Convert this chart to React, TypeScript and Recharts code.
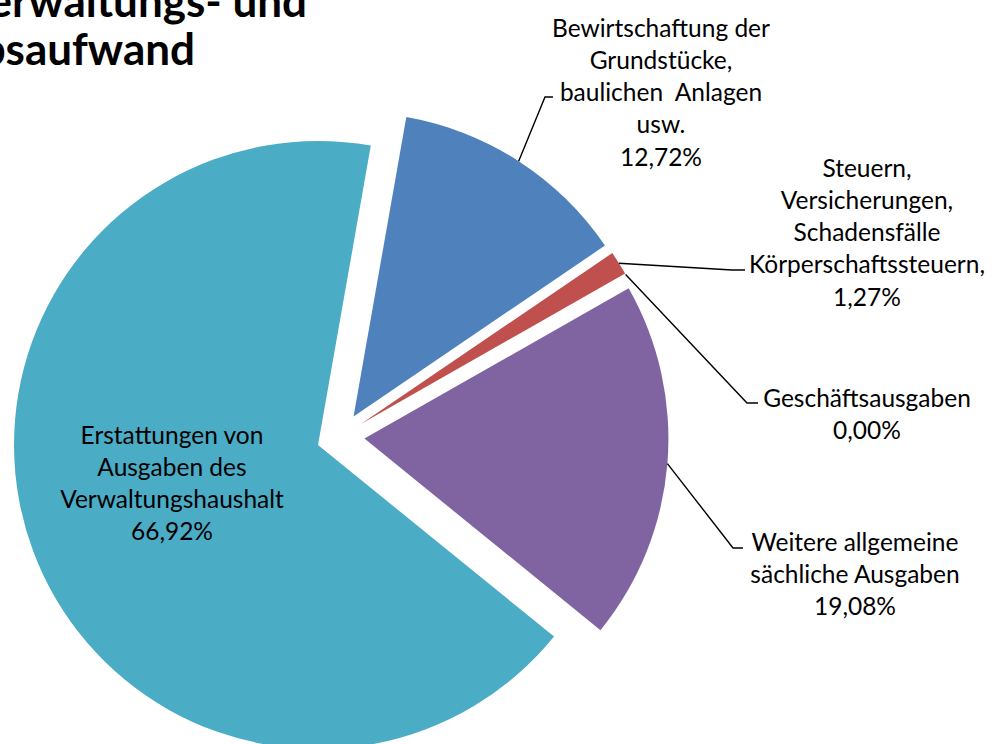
import React from 'react';
import { PieChart, Pie, Cell } from 'recharts';

// ---- data ----
const categories = [
  'Bewirtschaftung der Grundstücke, baulichen Anlagen usw.',
  'Steuern, Versicherungen, Schadensfälle Körperschaftssteuern',
  'Geschäftsausgaben',
  'Weitere allgemeine sächliche Ausgaben',
  'Erstattungen von Ausgaben des Verwaltungshaushalt',
];
const values = [12.72, 1.27, 0.0, 19.08, 66.92];
const labelLines: string[][] = [
  ['Bewirtschaftung der', 'Grundstücke,', 'baulichen  Anlagen', 'usw.'],
  ['Steuern,', 'Versicherungen,', 'Schadensfälle', 'Körperschaftssteuern,'],
  ['Geschäftsausgaben'],
  ['Weitere allgemeine', 'sächliche Ausgaben'],
  ['Erstattungen von', 'Ausgaben des', 'Verwaltungshaushalt'],
];
const titleLines = ['Verwaltungs- und', 'Betriebsaufwand'];

// ---- styles / layout ----
const colors = ['#4F81BD', '#C0504D', '#9BBB59', '#8064A2', '#4BACC6'];
const W = 999;
const H = 744;
const CENTER = { x: 340.5, y: 436.6 };
const EXPLODE = 24;
const RADIUS = 304;
const START = 80;
const FONT = 'Lato, "Open Sans", sans-serif';
const LABEL_SIZE = 24.5;
const LINE_H = 32.3;
const TITLE_SIZE = 44;

type LabelLayout = { x: number; y: number; elbow?: [number, number]; end?: [number, number] };
const labelLayout: LabelLayout[] = [
  { x: 661, y: 28, elbow: [545, 97], end: [553, 97] },
  { x: 867, y: 168, elbow: [732, 270], end: [745, 270] },
  { x: 867, y: 398, elbow: [747, 403], end: [758, 403] },
  { x: 855, y: 542, elbow: [733, 548], end: [743, 548] },
  { x: 172, y: 435 },
];

const data = categories.map((name, i) => ({ name, value: values[i] }));
const total = values.reduce((a, b) => a + b, 0);
const RAD = Math.PI / 180;

const fmt = (v: number) => v.toFixed(2).replace('.', ',') + '%';

function midAngleOf(i: number) {
  let before = 0;
  for (let j = 0; j < i; j++) before += values[j];
  return START - (360 * (before + values[i] / 2)) / total;
}

const makeLabel = (slice: number) => (props: any) => {
  const { cx, cy, midAngle, outerRadius, index } = props;
  if (index !== slice) return null;
  const lay = labelLayout[index];
  const lines = [...labelLines[index], fmt(values[index])];
  const sx = cx + Math.cos(-midAngle * RAD) * outerRadius;
  const sy = cy + Math.sin(-midAngle * RAD) * outerRadius;
  return (
    <g key={`lab-${index}`}>
      {lay.elbow && lay.end && (
        <polyline
          points={`${sx},${sy} ${lay.elbow[0]},${lay.elbow[1]} ${lay.end[0]},${lay.end[1]}`}
          fill="none"
          stroke="#000"
          strokeWidth={1.4}
        />
      )}
      <text
        x={lay.x}
        y={lay.y}
        textAnchor="middle"
        fontFamily={FONT}
        fontSize={LABEL_SIZE}
        fill="#000"
      >
        {lines.map((l, k) => (
          <tspan key={k} x={lay.x} y={lay.y + k * LINE_H} dy="0.35em" style={{ whiteSpace: 'pre' }}>
            {l}
          </tspan>
        ))}
      </text>
    </g>
  );
};

export default function App() {
  return (
    <div
      style={{
        position: 'absolute',
        left: 0,
        top: 0,
        width: W,
        height: H,
        overflow: 'hidden',
        background: '#fff',
      }}
    >
      <PieChart width={W} height={H} margin={{ top: 0, right: 0, bottom: 0, left: 0 }}>
        {values.map((_, i) => {
          const m = midAngleOf(i);
          const cx = CENTER.x + EXPLODE * Math.cos(m * RAD);
          const cy = CENTER.y - EXPLODE * Math.sin(m * RAD);
          return (
            <Pie
              key={i}
              data={data}
              dataKey="value"
              nameKey="name"
              cx={cx}
              cy={cy}
              innerRadius={0}
              outerRadius={RADIUS}
              startAngle={START}
              endAngle={START - 360}
              stroke="none"
              isAnimationActive={false}
              labelLine={false}
              label={makeLabel(i)}
            >
              {data.map((_, j) => (
                <Cell key={j} fill={j === i ? colors[j] : 'none'} />
              ))}
            </Pie>
          );
        })}
      </PieChart>
      <svg
        width={W}
        height={100}
        style={{ position: 'absolute', left: 0, top: 0, pointerEvents: 'none' }}
      >
        <text x={307} y={17} textAnchor="end" fontFamily={FONT} fontWeight={700} fontSize={TITLE_SIZE} fill="#000">
          {titleLines[0]}
        </text>
        <text x={195} y={65} textAnchor="end" fontFamily={FONT} fontWeight={700} fontSize={TITLE_SIZE} fill="#000">
          {titleLines[1]}
        </text>
      </svg>
    </div>
  );
}
